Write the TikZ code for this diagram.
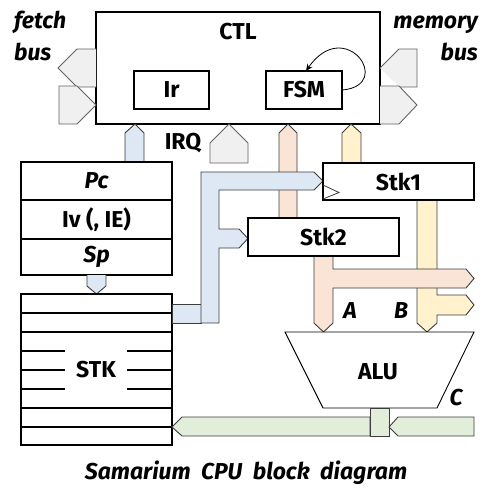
\documentclass[tikz,border=0pt]{standalone}
\usepackage{fontspec}
\setmainfont{Fira Sans}
\usetikzlibrary{arrows.meta}
\definecolor{cblue}{RGB}{222,232,244}
\definecolor{cpeach}{RGB}{250,228,214}
\definecolor{cyel}{RGB}{255,242,204}
\definecolor{cgreen}{RGB}{226,238,218}
\definecolor{cgray}{RGB}{240,240,240}
\definecolor{cline}{RGB}{60,60,60}
\tikzset{
  box/.style={draw=black,fill=white,line width=1.1pt,inner sep=0pt,font=\fontsize{23}{27}\selectfont\bfseries},
  lbl/.style={inner sep=0pt,font=\fontsize{23}{27}\selectfont\bfseries},
  ilbl/.style={inner sep=0pt,font=\fontsize{23}{27}\selectfont\bfseries\itshape},
  bus/.style={draw=cline,line width=0.9pt,line join=miter},
  bbus/.style={bus,fill=cblue},
  pbus/.style={bus,fill=cpeach},
  ybus/.style={bus,fill=cyel},
  gbus/.style={bus,fill=cgreen},
  xbus/.style={bus,fill=cgray,draw=cline!80},
}
\begin{document}
\begin{tikzpicture}[x=1pt,y=-1pt]
\useasboundingbox (0,0) rectangle (492,503);
% CTL block
\node[box,minimum width=284pt,minimum height=112pt] (ctl) at (238,68) {};
\node[lbl] (ctltxt) at (238,32) {CTL};
\node[box,minimum width=75pt,minimum height=38pt] (ir) at (171.5,90) {Ir};
\node[box,minimum width=76pt,minimum height=38pt] (fsm) at (304,90) {FSM};
\draw[line width=0.8pt,-{Stealth[length=7pt,width=6pt]}] (fsm.east) .. controls (395,85) and (345,15) .. (306,71);
% fetch bus
\draw[xbus] (96,49) -- (77,49) -- (58,68) -- (77,87) -- (96,87);
\draw[xbus] (59,86) -- (77,86) -- (96,105) -- (77,124) -- (59,124) -- cycle;
\node[ilbl,anchor=west] (fetch) at (14,22) {fetch};
\node[ilbl,anchor=west] (fbus) at (14,52) {bus};
% memory bus
\draw[xbus] (380,68) -- (399,49) -- (417,49) -- (417,87) -- (399,87);
\draw[xbus] (380,86) -- (399,86) -- (417,105) -- (399,124) -- (380,124);
\node[ilbl,anchor=east] (mem) at (478,25) {memory};
\node[ilbl,anchor=east] (mbus) at (478,52) {bus};
% upward arrows into CTL
\draw[bbus] (125,162) -- (125,133) -- (135,124) -- (144,133) -- (144,162);
\draw[xbus] (210,163) -- (210,143) -- (229,124) -- (248,143) -- (248,163) -- cycle;
\node[lbl] (irq) at (183,143) {IRQ};
\draw[pbus] (279,218) -- (279,133) -- (288,124) -- (297,133) -- (297,218);
\draw[ybus] (342,163) -- (342,133) -- (351,124) -- (361,133) -- (361,163);
% register file
\node[box,minimum width=151pt,minimum height=38pt] (pc) at (96.5,181) {\itshape Pc};
\node[box,minimum width=151pt,minimum height=39pt] (iv) at (96.5,219.5) {Iv (, IE)};
\node[box,minimum width=151pt,minimum height=36pt] (sp) at (96.5,257) {\itshape Sp};
\draw[bbus] (87,275) -- (87,286) -- (96.5,294) -- (106,286) -- (106,275);
% STK
\node[box,minimum width=151pt,minimum height=151pt] (stk) at (96.5,369.5) {};
\foreach \yy in {313,332,408,427} \draw[line width=1.1pt] (21,\yy) -- (172,\yy);
\foreach \yy in {351,370,389} {
  \draw[line width=1.1pt] (21,\yy) -- (65,\yy);
  \draw[line width=1.1pt] (127,\yy) -- (172,\yy);
}
\node[lbl] (stktxt) at (96,370) {STK};
% blue bus
\draw[bbus] (172,304) rectangle (201,323);
\draw[bbus] (201,323) -- (201,172) -- (314,172) -- (323,181) -- (314,190) -- (219,190) -- (219,229) -- (239,229) -- (248,238.5) -- (239,248) -- (219,248) -- (219,323) -- cycle;
% yellow from Stk1
\draw[ybus] (417,200) -- (417,323) -- (427,332) -- (437,323) -- (437,315) -- (466,315) -- (474,305) -- (466,295) -- (437,295) -- (437,200);
% peach from Stk2
\draw[pbus] (314,256) -- (314,323) -- (323.5,332) -- (333,323) -- (333,288) -- (466,288) -- (474,278.5) -- (466,269) -- (333,269) -- (333,256);
% Stk boxes
\node[box,minimum width=151pt,minimum height=37pt] (stk1) at (398.5,181.5) {Stk1};
\draw[line width=0.8pt,draw=cline] (323,185) -- (339,192.5) -- (323,199);
\node[box,minimum width=151pt,minimum height=38pt] (stk2) at (323.5,237) {Stk2};
\node[ilbl] (a) at (350,311) {A};
\node[ilbl] (b) at (401,311) {B};
% ALU
\draw[line width=0.9pt,fill=white] (285,332) -- (474,332) -- (437,408) -- (323,408) -- cycle;
\node[lbl] (alu) at (378,372) {ALU};
\node[ilbl] (c) at (456,398) {C};
% green bus
\draw[gbus] (370,417) -- (182,417) -- (172,427) -- (182,436) -- (370,436) -- cycle;
\draw[gbus] (370,408) rectangle (389,436);
\draw[gbus] (474,417) -- (398,417) -- (389,427) -- (398,436) -- (474,436) -- cycle;
% title
\node[ilbl] (title) at (246,473) {Samarium\ \ CPU\ \ block\ \ diagram};
\end{tikzpicture}
\end{document}
